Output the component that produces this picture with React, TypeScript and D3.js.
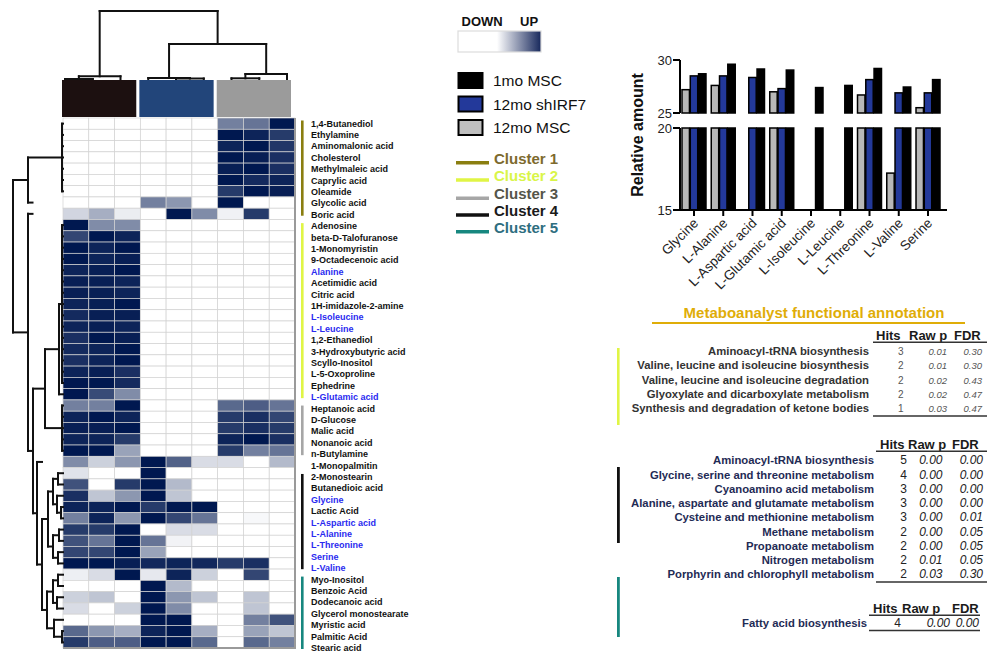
import React from 'react';
import * as d3 from 'd3';

const FONT = '"Liberation Sans", Arial, Helvetica, sans-serif';
const NARROW = '"Liberation Sans Narrow", "Arial Narrow", "Liberation Sans", Arial, sans-serif';

// ---------- heatmap data ----------
const metabolites = [
  '1,4-Butanediol', 'Ethylamine', 'Aminomalonic acid', 'Cholesterol', 'Methylmaleic acid',
  'Caprylic acid', 'Oleamide', 'Glycolic acid', 'Boric acid', 'Adenosine',
  'beta-D-Talofuranose', '1-Monomyristin', '9-Octadecenoic acid', 'Alanine', 'Acetimidic acid',
  'Citric acid', '1H-imidazole-2-amine', 'L-Isoleucine', 'L-Leucine', '1,2-Ethanediol',
  '3-Hydroxybutyric acid', 'Scyllo-Inositol', 'L-5-Oxoproline', 'Ephedrine', 'L-Glutamic acid',
  'Heptanoic acid', 'D-Glucose', 'Malic acid', 'Nonanoic acid', 'n-Butylamine',
  '1-Monopalmitin', '2-Monostearin', 'Butanedioic acid', 'Glycine', 'Lactic Acid',
  'L-Aspartic acid', 'L-Alanine', 'L-Threonine', 'Serine', 'L-Valine',
  'Myo-Inositol', 'Benzoic Acid', 'Dodecanoic acid', 'Glycerol monostearate', 'Myristic acid',
  'Palmitic Acid', 'Stearic acid',
];

const aminoAcidRows = [
  'Alanine', 'L-Isoleucine', 'L-Leucine', 'L-Glutamic acid', 'Glycine',
  'L-Aspartic acid', 'L-Alanine', 'L-Threonine', 'Serine', 'L-Valine',
];

const groupLabels = ['1mo MSC', '12mo shIRF7', '12mo MSC'];

// relative abundance per metabolite (rows) and sample (columns), 0 = down, 1 = up
const heatValues = [
  [0, 0, 0, 0, 0, 0, 0.55, 0.6, 1.0],
  [0, 0, 0, 0, 0, 0, 1.0, 0.95, 0.85],
  [0, 0, 0, 0, 0, 0, 0.95, 1.0, 0.87],
  [0, 0, 0, 0, 0, 0, 1.0, 0.97, 0.9],
  [0, 0, 0, 0, 0, 0, 0.97, 1.0, 0.9],
  [0, 0, 0, 0, 0, 0, 1.0, 0.92, 0.95],
  [0, 0, 0, 0, 0, 0, 0.85, 1.0, 0.97],
  [0, 0, 0, 0.55, 0.45, 0, 1.0, 0, 0],
  [0.18, 0.35, 0.08, 0, 1.0, 0.5, 0.06, 0.85, 0],
  [1.0, 0.5, 0.5, 0, 0, 0, 0, 0, 0],
  [0.8, 1.0, 0.95, 0, 0, 0, 0, 0, 0],
  [1.0, 0.95, 1.0, 0, 0, 0, 0, 0, 0],
  [1.0, 0.95, 0.97, 0, 0, 0, 0, 0, 0],
  [0.95, 0.97, 1.0, 0, 0, 0, 0, 0, 0],
  [0.97, 0.97, 0.95, 0, 0, 0, 0, 0, 0],
  [0.97, 0.97, 0.95, 0, 0, 0, 0, 0, 0],
  [0.95, 0.97, 1.0, 0, 0, 0, 0, 0, 0],
  [0.92, 0.97, 0.97, 0, 0, 0, 0, 0, 0],
  [0.95, 0.97, 0.95, 0, 0, 0, 0, 0, 0],
  [0.9, 1.0, 0.97, 0, 0, 0, 0, 0, 0],
  [0.92, 0.95, 1.0, 0, 0, 0, 0, 0, 0],
  [0.9, 0.95, 1.0, 0, 0, 0, 0, 0, 0],
  [0.95, 0.97, 0.9, 0, 0, 0, 0, 0, 0],
  [1.0, 1.0, 0.92, 0, 0, 0, 0, 0, 0],
  [1.0, 0.78, 0.5, 0, 0, 0, 0, 0, 0],
  [0.55, 0.55, 1.0, 0, 0, 0, 0.65, 0.7, 0.6],
  [0.95, 1.0, 0.95, 0, 0, 0, 0.85, 0.9, 0.8],
  [0.97, 0.97, 1.0, 0, 0, 0, 0.85, 0.9, 0.85],
  [0.95, 0.95, 0.85, 0, 0, 0, 0.95, 1.0, 0.9],
  [1.0, 1.0, 0.4, 0, 0, 0, 0.85, 0.55, 0.6],
  [0.5, 0.2, 0.45, 1.0, 0.68, 0.15, 0.15, 0, 0.3],
  [0.12, 0, 0, 1.0, 0, 0, 0, 0, 0],
  [0.75, 0, 0.85, 1.0, 0.3, 0, 0, 0, 0],
  [0.9, 0.25, 0.45, 1.0, 0.25, 0, 0, 0, 0],
  [0.95, 0.95, 1.0, 0.85, 1.0, 1.0, 0, 0, 0],
  [0.55, 0.95, 0.45, 1.0, 0.8, 0.6, 0, 0.03, 0],
  [0.85, 0.85, 1.0, 0, 0.15, 0.15, 0, 0, 0],
  [0.75, 0.6, 1.0, 0.6, 0.05, 0, 0, 0, 0],
  [0.8, 0.8, 1.0, 0.4, 0, 0, 0, 0, 0],
  [1.0, 1.0, 0.97, 0.93, 0.95, 0.93, 0.85, 0.9, 0],
  [0.07, 0.15, 1.0, 0.1, 0.95, 0.2, 0, 0.8, 0],
  [0, 0, 0, 1.0, 0.3, 0, 0, 0, 0],
  [0.2, 0.25, 0, 1.0, 0.45, 0.25, 0, 0.25, 0],
  [0.15, 0, 0.2, 1.0, 0.5, 0, 0, 0.25, 0],
  [0, 0, 0, 1.0, 1.0, 0, 0, 0.55, 0.75],
  [0.65, 0.45, 0.35, 0.95, 1.0, 0.35, 0, 0.4, 0.25],
  [0.85, 0.7, 0.7, 1.0, 1.0, 0.65, 0, 0.65, 0.55],
];

const clusterLabels = ['Cluster 1', 'Cluster 2', 'Cluster 3', 'Cluster 4', 'Cluster 5'];
const clusterFirstRow = [0, 9, 25, 31, 40];
const clusterLastRow = [8, 24, 29, 39, 46];

// ---------- bar chart data ----------
const aminoAcids = [
  'Glycine', 'L-Alanine', 'L-Aspartic acid', 'L-Glutamic acid', 'L-Isoleucine',
  'L-Leucine', 'L-Threonine', 'L-Valine', 'Serine',
];
const msc12Amount: (number | null)[] = [27.2, 27.6, null, 27.0, null, null, 26.7, 17.25, 25.5];
const shIRF7Amount: (number | null)[] = [28.5, 28.5, 28.35, 27.3, null, null, 28.15, 26.9, 26.9];
const msc1Amount: (number | null)[] = [28.7, 29.6, 29.15, 29.05, 27.4, 27.6, 29.2, 27.45, 28.15];
const upperTicks = [25, 30];
const lowerTicks = [15, 20];

// ---------- pathway tables ----------
const tableHeader = ['Hits', 'Raw p', 'FDR'];
const c2Pathways = [
  'Aminoacyl-tRNA biosynthesis',
  'Valine, leucine and isoleucine biosynthesis',
  'Valine, leucine and isoleucine degradation',
  'Glyoxylate and dicarboxylate metabolism',
  'Synthesis and degradation of ketone bodies',
];
const c2Hits = ['3', '2', '2', '2', '1'];
const c2RawP = ['0.01', '0.01', '0.02', '0.02', '0.03'];
const c2FDR = ['0.30', '0.30', '0.43', '0.47', '0.47'];

const c4Pathways = [
  'Aminoacyl-tRNA biosynthesis',
  'Glycine, serine and threonine metabolism',
  'Cyanoamino acid metabolism',
  'Alanine, aspartate and glutamate metabolism',
  'Cysteine and methionine metabolism',
  'Methane metabolism',
  'Propanoate metabolism',
  'Nitrogen metabolism',
  'Porphyrin and chlorophyll metabolism',
];
const c4Hits = ['5', '4', '3', '3', '3', '2', '2', '2', '2'];
const c4RawP = ['0.00', '0.00', '0.00', '0.00', '0.00', '0.00', '0.00', '0.01', '0.03'];
const c4FDR = ['0.00', '0.00', '0.00', '0.00', '0.01', '0.05', '0.05', '0.05', '0.30'];

const c5Pathways = ['Fatty acid biosynthesis'];
const c5Hits = ['4'];
const c5RawP = ['0.00'];
const c5FDR = ['0.00'];

// ---------- styles ----------
const groupColors = ['#1c1010', '#22457a', '#9b9b9b'];
const swatchFill = ['#000000', '#23399a', '#bfbfbf'];
const clusterColors = ['#8a7e10', '#e0f545', '#a6a6a6', '#111111', '#17877f'];
const clusterTextColors = ['#7d6a2e', '#d9f548', '#55554a', '#1a1a1a', '#2e6e80'];
const barFills = ['#b8b8b8', '#23399a', '#000000'];
const heatColor = d3.interpolateRgb('#ffffff', '#001850');

// ---------- dendrogram trees ----------
type TNode = { h: number; kids?: TNode[]; leaf?: number };
const N = (h: number, kids: (TNode | number)[]): TNode => ({
  h,
  kids: kids.map((k) => (typeof k === 'number' ? { h: 0, leaf: k } : k)),
});
const L = (leaf: number, h: number): TNode => ({ h, leaf });

const cluster4Tree = N(3, [
  N(2, [N(1, [31, 32]), N(1.2, [33, N(0.4, [34, 35])])]),
  N(2, [N(0.8, [36, 37]), N(1, [38, 39])]),
]);
const cluster5Tree = N(3.2, [
  N(2, [N(1, [40, 41]), N(1.2, [42, 43])]),
  N(1.8, [44, N(0.2, [45, 46])]),
]);
const rowTree = N(10, [
  N(7, [N(0.2, [0, 1, 2, 3, 4, 5, 6]), L(7, 6.1)]),
  N(7, [
    L(8, 6.1),
    N(6, [
      N(3.6, [
        N(0.8, [N(0.2, d3.range(9, 24)), 24]),
        N(0.2, [25, 26, 27, 28, 29]),
      ]),
      N(5.2, [L(30, 4.2), N(4.2, [cluster4Tree, cluster5Tree])]),
    ]),
  ]),
]);
const colTree = N(69, [
  N(3.7, [N(1, [0, 1]), 2]),
  N(36, [N(2, [3, N(1.5, [4, 5])]), N(6, [N(1.7, [6, 7]), 8])]),
]);

// segments are [depth1, pos1, depth2, pos2]
type Seg = [number, number, number, number];
function walkTree(
  node: TNode,
  leafPos: (i: number) => number,
  depth: (h: number) => number,
  segs: Seg[],
): { pos: number; d: number } {
  if (node.leaf !== undefined) return { pos: leafPos(node.leaf), d: depth(node.h) };
  const kids = (node.kids || []).map((k) => walkTree(k, leafPos, depth, segs));
  const d = depth(node.h);
  const first = kids[0].pos;
  const last = kids[kids.length - 1].pos;
  kids.forEach((k) => segs.push([d, k.pos, k.d, k.pos]));
  segs.push([d, first, d, last]);
  return { pos: (first + last) / 2, d };
}

// ---------- geometry ----------
const hmLeft = 63;
const hmRight = 295;
const hmTop = 118;
const hmBottom = 648;

type TableOpts = {
  headerY: number; rowY0: number; rowStep: number; labelEnd: number;
  headX: number[]; valEnd: number[]; ruleX: [number, number]; ruleBottom: number;
  labelColor: string; valColor: string; valSize: number; hitSize: number; valFont: string;
};

function PathwayTable({ pathways, hits, rawp, fdr, opts }: {
  pathways: string[]; hits: string[]; rawp: string[]; fdr: string[]; opts: TableOpts;
}) {
  return (
    <g>
      {tableHeader.map((h, i) => (
        <text key={h} x={opts.headX[i]} y={opts.headerY} fontFamily={FONT} fontWeight="bold" fontSize={13} fill="#1a1a1a">{h}</text>
      ))}
      <line x1={opts.ruleX[0]} x2={opts.ruleX[1]} y1={opts.headerY + 2.3} y2={opts.headerY + 2.3} stroke="#333" strokeWidth={1.4} />
      {pathways.map((p, i) => {
        const y = opts.rowY0 + i * opts.rowStep;
        return (
          <g key={p}>
            <text x={opts.labelEnd} y={y} textAnchor="end" fontFamily={FONT} fontWeight="bold" fontSize={11.3} fill={opts.labelColor}>{p}</text>
            <text x={opts.valEnd[0]} y={y} textAnchor="end" fontFamily={FONT} fontSize={opts.hitSize} fill={opts.valColor}>{hits[i]}</text>
            <text x={opts.valEnd[1]} y={y} textAnchor="end" fontFamily={opts.valFont} fontStyle="italic" fontSize={opts.valSize} fill={opts.valColor}>{rawp[i]}</text>
            <text x={opts.valEnd[2]} y={y} textAnchor="end" fontFamily={opts.valFont} fontStyle="italic" fontSize={opts.valSize} fill={opts.valColor}>{fdr[i]}</text>
          </g>
        );
      })}
      <line x1={opts.ruleX[0]} x2={opts.ruleX[1]} y1={opts.ruleBottom} y2={opts.ruleBottom} stroke="#333" strokeWidth={1.4} />
    </g>
  );
}

export default function App() {
  const xCell = d3.scaleBand<number>().domain(d3.range(9)).range([hmLeft, hmRight]);
  const yCell = d3.scaleBand<number>().domain(d3.range(metabolites.length)).range([hmTop, hmBottom]);
  const labelY = d3.scaleLinear().domain([0, metabolites.length - 1]).range([123.5, 648]);

  const groupBand = d3.scaleBand<number>().domain([0, 1, 2]).range([62, 291]).paddingInner(0.04);

  // row dendrogram
  const rowDepth = d3.scaleLinear().domain([0, 10]).range([hmLeft, 13]);
  const rowSegs: Seg[] = [];
  walkTree(rowTree, (i) => (yCell(i) as number) + yCell.bandwidth() / 2, rowDepth, rowSegs);

  // column dendrogram
  const colLeaf = d3.scalePoint<number>().domain(d3.range(9)).range([65, 287]);
  const colDepth = d3.scaleLinear().domain([0, 69]).range([80, 11]);
  const colSegs: Seg[] = [];
  walkTree(colTree, (i) => colLeaf(i) as number, colDepth, colSegs);

  // bar chart scales (broken y axis: two linear segments)
  const xBar = d3.scaleBand<string>().domain(aminoAcids).range([682, 940]).paddingInner(0.18);
  const xSeries = d3.scaleBand<number>().domain([0, 1, 2]).range([0, xBar.bandwidth()]).paddingInner(0.1);
  const yUpper = d3.scaleLinear().domain([25, 30]).range([113, 60]);
  const yLower = d3.scaleLinear().domain([15, 20]).range([210, 128]);
  const series = [msc12Amount, shIRF7Amount, msc1Amount];

  const legendSwatchY = [73, 96.5, 120];
  const legendTextY = [86, 109.5, 132.5];
  const clusterLegendY = [162.7, 180, 198.3, 215, 231.7];

  return (
    <svg width={989} height={653} style={{ position: 'absolute', left: 0, top: 0, background: '#fff' }}>
      <defs>
        <linearGradient id="updown" x1="0" x2="1" y1="0" y2="0">
          <stop offset="0" stopColor="#ffffff" />
          <stop offset="0.47" stopColor="#ffffff" />
          <stop offset="1" stopColor="#17285c" />
        </linearGradient>
      </defs>

      {/* column dendrogram */}
      <g stroke="#111" strokeWidth={2} strokeLinecap="square" fill="none">
        {colSegs.map((s, i) => (
          <line key={i} x1={s[1]} y1={s[0]} x2={s[3]} y2={s[2]} />
        ))}
      </g>

      {/* sample group bars */}
      {[0, 1, 2].map((g) => (
        <rect key={g} x={groupBand(g)} y={80} width={groupBand.bandwidth()} height={37} fill={groupColors[g]} />
      ))}

      {/* heatmap cells */}
      <g>
        {heatValues.map((row, r) =>
          row.map((v, c) => (
            <rect key={`${r}-${c}`} x={xCell(c)} y={yCell(r)} width={xCell.bandwidth()} height={yCell.bandwidth()}
              fill={heatColor(v)} stroke="#d2d2d2" strokeWidth={0.7} />
          )),
        )}
      </g>
      <line x1={hmRight} x2={hmRight} y1={hmTop} y2={hmBottom} stroke="#9a9a9a" strokeWidth={2} />
      <line x1={hmLeft} x2={hmRight + 1} y1={hmBottom} y2={hmBottom} stroke="#9a9a9a" strokeWidth={2} />

      {/* row dendrogram */}
      <g stroke="#111" strokeWidth={2} strokeLinecap="square" fill="none">
        {rowSegs.map((s, i) => (
          <line key={i} x1={s[0]} y1={s[1]} x2={s[2]} y2={s[3]} />
        ))}
      </g>

      {/* cluster bars beside the labels */}
      {clusterLabels.map((c, i) => (
        <rect key={c} x={301} width={2.6} y={labelY(clusterFirstRow[i]) - 3}
          height={labelY(clusterLastRow[i]) - labelY(clusterFirstRow[i]) + 4} fill={clusterColors[i]} />
      ))}

      {/* metabolite labels */}
      {metabolites.map((m, i) => (
        <text key={m} x={311} y={labelY(i)} dominantBaseline="central" fontFamily={FONT} fontWeight="bold"
          fontSize={9} fill={aminoAcidRows.includes(m) ? '#2a2af0' : '#111'}>{m}</text>
      ))}

      {/* color key */}
      <text x={461.5} y={26} fontFamily={FONT} fontWeight="bold" fontSize={13} fill="#111">DOWN</text>
      <text x={520} y={26} fontFamily={FONT} fontWeight="bold" fontSize={13} fill="#111">UP</text>
      <rect x={458} y={31} width={83} height={21} fill="url(#updown)" stroke="#dcdcdc" strokeWidth={1.2} />

      {/* group legend */}
      {groupLabels.map((g, i) => (
        <g key={g}>
          <rect x={458.5} y={legendSwatchY[i]} width={24} height={15} fill={swatchFill[i]} stroke="#000" strokeWidth={2} />
          <text x={493} y={legendTextY[i]} fontFamily={FONT} fontSize={15.5} fill="#111">{g}</text>
        </g>
      ))}

      {/* cluster legend */}
      {clusterLabels.map((c, i) => (
        <g key={c}>
          <line x1={456} x2={489} y1={clusterLegendY[i]} y2={clusterLegendY[i]} stroke={clusterColors[i]} strokeWidth={3.5} />
          <text x={494} y={clusterLegendY[i] + 1} fontFamily={FONT} fontWeight="bold" fontSize={15} fill={clusterTextColors[i]}>{c}</text>
        </g>
      ))}

      {/* bar chart */}
      <g>
        {aminoAcids.map((a, ai) => {
          const x0 = xBar(a) as number;
          return series.map((s, si) => {
            const v = s[ai];
            if (v === null || v === undefined) return null;
            const bx = x0 + (xSeries(si) as number);
            const bw = xSeries.bandwidth();
            const lowTop = v >= 20 ? yLower(20) : yLower(v);
            return (
              <g key={`${a}-${si}`} fill={barFills[si]} stroke="#000" strokeWidth={1.5}>
                <rect x={bx} y={lowTop} width={bw} height={yLower(15) - lowTop} />
                {v > 25 ? <rect x={bx} y={yUpper(v)} width={bw} height={yUpper(25) - yUpper(v)} /> : null}
              </g>
            );
          });
        })}
      </g>
      <g stroke="#000" strokeWidth={2}>
        <line x1={680} x2={680} y1={yUpper(30)} y2={yUpper(25)} />
        <line x1={680} x2={680} y1={yLower(20)} y2={yLower(15)} />
        <line x1={679} x2={947} y1={yLower(15)} y2={yLower(15)} />
        {upperTicks.map((t) => <line key={`u${t}`} x1={673} x2={680} y1={yUpper(t)} y2={yUpper(t)} />)}
        {lowerTicks.map((t) => <line key={`l${t}`} x1={673} x2={680} y1={yLower(t)} y2={yLower(t)} />)}
        {aminoAcids.map((a) => {
          const cx = (xBar(a) as number) + xBar.bandwidth() / 2;
          return <line key={a} x1={cx} x2={cx} y1={yLower(15)} y2={yLower(15) + 6} />;
        })}
      </g>
      {upperTicks.map((t) => (
        <text key={`ut${t}`} x={672} y={yUpper(t)} textAnchor="end" dominantBaseline="central" fontFamily={FONT} fontSize={13} fill="#222">{t}</text>
      ))}
      {lowerTicks.map((t) => (
        <text key={`lt${t}`} x={672} y={yLower(t)} textAnchor="end" dominantBaseline="central" fontFamily={FONT} fontSize={13} fill="#222">{t}</text>
      ))}
      {aminoAcids.map((a) => {
        const cx = (xBar(a) as number) + xBar.bandwidth() / 2;
        return (
          <text key={`xl${a}`} transform={`translate(${cx + 5},${224}) rotate(-45)`} textAnchor="end"
            fontFamily={FONT} fontSize={13.5} fill="#222">{a}</text>
        );
      })}
      <text transform="translate(637,135) rotate(-90)" textAnchor="middle" dominantBaseline="central"
        fontFamily={FONT} fontWeight="bold" fontSize={16} fill="#111">Relative amount</text>

      {/* functional annotation */}
      <text x={814} y={318} textAnchor="middle" fontFamily={FONT} fontWeight="bold" fontSize={15} fill="#dfad08">
        Metaboanalyst functional annotation
      </text>
      <line x1={652} x2={965} y1={323} y2={323} stroke="#dfad08" strokeWidth={1.8} />

      <rect x={617} y={348} width={2.6} height={77} fill={clusterColors[1]} />
      <rect x={617} y={467} width={2.8} height={76} fill={clusterColors[3]} />
      <rect x={617} y={577} width={2.8} height={60} fill={clusterColors[4]} />

      <PathwayTable pathways={c2Pathways} hits={c2Hits} rawp={c2RawP} fdr={c2FDR} opts={{
        headerY: 340, rowY0: 355, rowStep: 14.3, labelEnd: 869,
        headX: [876, 909, 954], valEnd: [903.5, 947, 982], ruleX: [873, 987], ruleBottom: 416,
        labelColor: '#333', valColor: '#555', valSize: 9.5, hitSize: 10, valFont: FONT,
      }} />
      <PathwayTable pathways={c4Pathways} hits={c4Hits} rawp={c4RawP} fdr={c4FDR} opts={{
        headerY: 449, rowY0: 464.3, rowStep: 14.25, labelEnd: 874,
        headX: [880, 908, 952], valEnd: [907, 942.5, 983], ruleX: [876, 987], ruleBottom: 582,
        labelColor: '#1f2b55', valColor: '#222', valSize: 12, hitSize: 12, valFont: NARROW,
      }} />
      <PathwayTable pathways={c5Pathways} hits={c5Hits} rawp={c5RawP} fdr={c5FDR} opts={{
        headerY: 613, rowY0: 627, rowStep: 14.25, labelEnd: 867,
        headX: [873, 902, 952], valEnd: [901, 950, 979], ruleX: [869, 980], ruleBottom: 630.5,
        labelColor: '#1f2b55', valColor: '#222', valSize: 12, hitSize: 12, valFont: NARROW,
      }} />
    </svg>
  );
}
